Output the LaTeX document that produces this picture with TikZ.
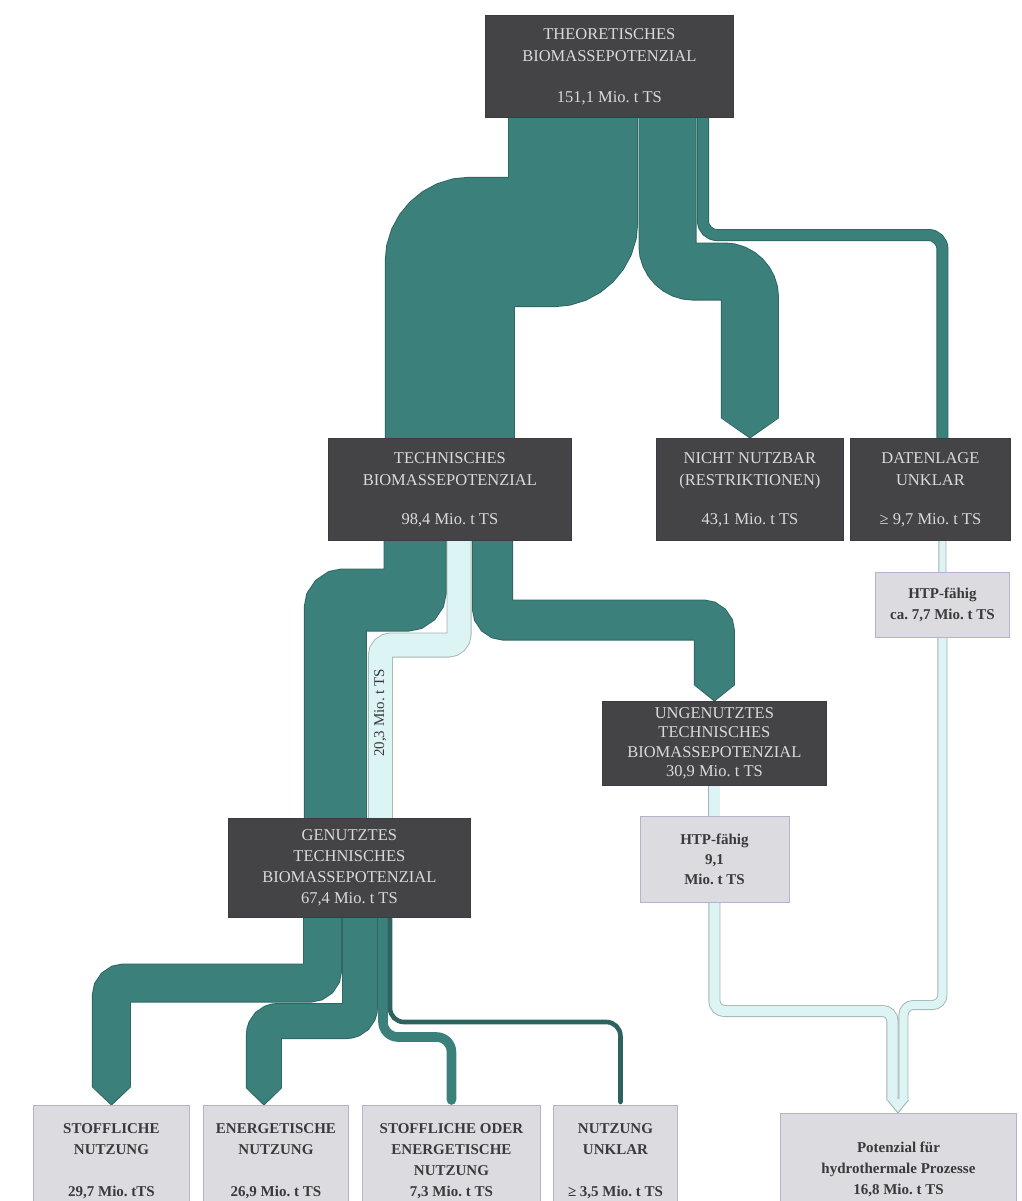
\documentclass[tikz,border=0pt]{standalone}
\usepackage{fontspec}
\setmainfont{Liberation Serif}
\usetikzlibrary{calc,backgrounds}

\definecolor{boxdark}{HTML}{444346}
\definecolor{boxdarkline}{HTML}{3B3A46}
\definecolor{boxtext}{HTML}{DADADA}
\definecolor{boxlight}{HTML}{DCDCE0}
\definecolor{boxlightline}{HTML}{B4B2CC}
\definecolor{inktext}{HTML}{3A3A3C}
\definecolor{flowteal}{HTML}{3C807C}
\definecolor{flowtealline}{HTML}{2C6461}
\definecolor{flowdeep}{HTML}{2E625F}
\definecolor{flowcyan}{HTML}{DDF4F4}
\definecolor{flowcyanline}{HTML}{A6B2B2}

% pointed end of a band: #1 tip point, #2 half width, #3 depth
\newcommand\tealtip[3]{%
  \fill[flowteal] ($(#1)+(-#2,-#3-1)$) -- ($(#1)+(#2,-#3-1)$) -- (#1) -- cycle;
  \draw[flowtealline, line width=0.9pt]
    ($(#1)+(-#2+0.45,-#3)$) -- (#1) -- ($(#1)+(#2-0.45,-#3)$);}
\newcommand\cyantip[3]{%
  \fill[flowcyan] ($(#1)+(-#2,-#3-1)$) -- ($(#1)+(#2,-#3-1)$) -- (#1) -- cycle;
  \draw[flowcyanline, line width=0.9pt]
    ($(#1)+(-#2+0.45,-#3)$) -- (#1) -- ($(#1)+(#2-0.45,-#3)$);}

\begin{document}
\frenchspacing
\begin{tikzpicture}[x=1pt, y=-1pt,
  darkbox/.style={fill=boxdark, draw=boxdarkline, line width=0.8pt, text=boxtext,
    align=center, inner sep=0pt, anchor=north west,
    font=\fontsize{16.5}{22}\selectfont},
  lightbox/.style={fill=boxlight, draw=boxlightline, line width=0.9pt, text=inktext,
    align=center, inner sep=0pt, anchor=north west,
    font=\bfseries\fontsize{15}{21}\selectfont},
  tealband/.style={draw=flowtealline, line width=0.9pt, double=flowteal, double distance=#1},
  cyanband/.style={draw=flowcyanline, line width=0.9pt, double=flowcyan, double distance=#1},
  bandlabel/.style={rotate=90, inner sep=0pt, text=inktext, font=\fontsize{15}{15}\selectfont},
]
\useasboundingbox (0,0) rectangle (1021,1201);

% ---------- boxes ----------
\node[darkbox, minimum width=248pt, minimum height=102pt] (theo) at (485,15)
  {THEORETISCHES\\BIOMASSEPOTENZIAL\\[19pt]151,1 Mio. t TS};
\node[darkbox, minimum width=243pt, minimum height=102pt] (tech) at (328,438)
  {TECHNISCHES\\BIOMASSEPOTENZIAL\\[17pt]98,4 Mio. t TS};
\node[darkbox, minimum width=187pt, minimum height=102pt] (nicht) at (656,438)
  {NICHT NUTZBAR\\(RESTRIKTIONEN)\\[17pt]43,1 Mio. t TS};
\node[darkbox, minimum width=160pt, minimum height=102pt] (daten) at (850,438)
  {DATENLAGE\\UNKLAR\\[17pt]≥ 9,7 Mio. t TS};
\node[lightbox, minimum width=134pt, minimum height=65pt] (htp77) at (875,572)
  {HTP-fähig\\ca. 7,7 Mio. t TS};
\node[darkbox, minimum width=224pt, minimum height=84pt,
  font=\fontsize{16.5}{19.5}\selectfont] (unge) at (602,701)
  {UNGENUTZTES\\TECHNISCHES\\BIOMASSEPOTENZIAL\\30,9 Mio. t TS};
\node[darkbox, minimum width=242pt, minimum height=99pt,
  font=\fontsize{16.5}{21}\selectfont] (genu) at (228,818)
  {GENUTZTES\\TECHNISCHES\\BIOMASSEPOTENZIAL\\67,4 Mio. t TS};
\node[lightbox, minimum width=149pt, minimum height=86pt,
  font=\bfseries\fontsize{15}{20}\selectfont] (htp91) at (639.5,816)
  {HTP-fähig\\9,1\\Mio. t TS};
\node[lightbox, minimum width=156pt, minimum height=112pt] (stoff) at (33,1105)
  {STOFFLICHE\\NUTZUNG\\[21pt]29,7 Mio. tTS};
\node[lightbox, minimum width=145pt, minimum height=112pt] (energ) at (203,1105)
  {ENERGETISCHE\\NUTZUNG\\[21pt]26,9 Mio. t TS};
\node[lightbox, minimum width=178pt, minimum height=112pt] (stoffo) at (362,1105)
  {STOFFLICHE ODER\\ENERGETISCHE\\NUTZUNG\\7,3 Mio. t TS};
\node[lightbox, minimum width=124pt, minimum height=112pt] (unklar) at (553,1105)
  {NUTZUNG\\UNKLAR\\[21pt]≥ 3,5 Mio. t TS};
\node[lightbox, minimum width=236pt, minimum height=112pt] (pot) at (780,1113)
  {Potenzial für\\hydrothermale Prozesse\\16,8 Mio. t TS};

% ---------- streams (behind the boxes) ----------
\begin{pgfonlayer}{background}
\fill[white] (0,0) rectangle (1021,1201);

% levels of the horizontal runs
\coordinate (datenrun) at (0,235);
\coordinate (nichtrun) at (0,271.5);
\coordinate (techrun) at (0,242);
\coordinate (genrun) at (0,600);
\coordinate (cyanrun) at (0,645);
\coordinate (ungerun) at (0,620);
\coordinate (stoffrun) at (0,983);
\coordinate (energrun) at (0,1021);
\coordinate (stofforun) at (0,1037);
\coordinate (unklarrun) at (0,1022);
\coordinate (leftrun) at (0,1011);
\coordinate (rightrun) at (0,1005);

% theoretical potential -> unclear data
\coordinate (d0) at ($(theo.south west)+(218,-3)$);
\coordinate (d1) at ($(daten.north)+(12,3)$);
\draw[tealband=10.2pt, rounded corners=14pt]
  (d0) -- (d0 |- datenrun) -- (d1 |- datenrun) -- (d1);

% theoretical potential -> not usable
\coordinate (n0) at ($(theo.south west)+(182.5,-3)$);
\coordinate (n1) at ($(nicht.north)+(0,-20)$);
\draw[tealband=56.2pt, rounded corners=26pt]
  (n0) -- (n0 |- nichtrun) -- (n1 |- nichtrun) -- (n1);
\tealtip{nicht.north}{29}{20}

% theoretical potential -> technical potential
\coordinate (t0) at ($(theo.south west)+(88,-3)$);
\coordinate (t1) at ($(tech.north)+(0,3)$);
\draw[tealband=128.2pt, rounded corners=20pt]
  (t0) -- (t0 |- techrun) -- (t1 |- techrun) -- (t1);

% technical potential -> used potential (HTP share, light)
\coordinate (c0) at ($(tech.south west)+(131,-3)$);
\coordinate (c1) at ($(genu.north)+(31,3)$);
\draw[cyanband=23.2pt, rounded corners=11pt]
  (c0) -- (c0 |- cyanrun) -- (c1 |- cyanrun) -- (c1);
\node[bandlabel] (cyanlabel) at ($(genu.north)+(31,-105)$) {20,3 Mio. t TS};

% technical potential -> used potential
\coordinate (g0) at ($(tech.south west)+(87,-3)$);
\coordinate (g1) at ($(genu.north)+(-14,3)$);
\draw[tealband=61.2pt, rounded corners=9pt]
  (g0) -- (g0 |- genrun) -- (g1 |- genrun) -- (g1);

% technical potential -> unused potential
\coordinate (u0) at ($(tech.south west)+(164.5,-3)$);
\coordinate (u1) at ($(unge.north)+(0,-16)$);
\draw[tealband=39.2pt, rounded corners=12pt]
  (u0) -- (u0 |- ungerun) -- (u1 |- ungerun) -- (u1);
\tealtip{unge.north}{20.5}{16}

% HTP capable shares
\coordinate (w0) at ($(unge.south)+(0,-3)$);
\draw[cyanband=10.2pt] (w0) -- ($(w0 |- htp91.north)+(0,3)$);
\draw[cyanband=6.2pt] ($(daten.south)+(12,-3)$) -- ($(htp77.north)+(0,3)$);

\coordinate (h0) at ($(htp91.south)+(0,-3)$);
\coordinate (h1) at ($(pot.north)+(-6,-13)$);
\draw[cyanband=10.2pt, rounded corners=10pt]
  (h0) -- (h0 |- leftrun) -- (h1 |- leftrun) -- (h1);
\coordinate (k0) at ($(htp77.south)+(0,-3)$);
\coordinate (k1) at ($(pot.north)+(5,-13)$);
\draw[cyanband=8.2pt, rounded corners=10pt]
  (k0) -- (k0 |- rightrun) -- (k1 |- rightrun) -- (k1);
\coordinate (potin) at ($(pot.north)+(-0.5,0)$);
\cyantip{potin}{11}{13}

% used potential -> kinds of use
\coordinate (s0) at ($(genu.south west)+(94.5,-3)$);
\coordinate (s1) at ($(stoff.north)+(0,-18)$);
\draw[tealband=37.2pt, rounded corners=13pt]
  (s0) -- (s0 |- stoffrun) -- (s1 |- stoffrun) -- (s1);
\tealtip{stoff.north}{19.5}{18}

\coordinate (etip) at ($(energ.north)+(-12,0)$);
\coordinate (e0) at ($(genu.south west)+(132,-3)$);
\coordinate (e1) at ($(etip)+(0,-17)$);
\draw[tealband=34.2pt, rounded corners=14pt]
  (e0) -- (e0 |- energrun) -- (e1 |- energrun) -- (e1);
\tealtip{etip}{18}{17}

\coordinate (o0) at ($(genu.south west)+(155,-3)$);
\coordinate (o1) at ($(stoffo.north)+(0,-5)$);
\draw[flowteal, line width=9.6pt, rounded corners=15pt, line cap=round]
  (o0) -- (o0 |- stofforun) -- (o1 |- stofforun) -- (o1);

\coordinate (q0) at ($(genu.south west)+(162,-3)$);
\coordinate (q1) at ($(unklar.north)+(5,-3)$);
\draw[flowdeep, line width=4.6pt, rounded corners=14pt, line cap=round]
  (q0) -- (q0 |- unklarrun) -- (q1 |- unklarrun) -- (q1);
\end{pgfonlayer}
\end{tikzpicture}
\end{document}
